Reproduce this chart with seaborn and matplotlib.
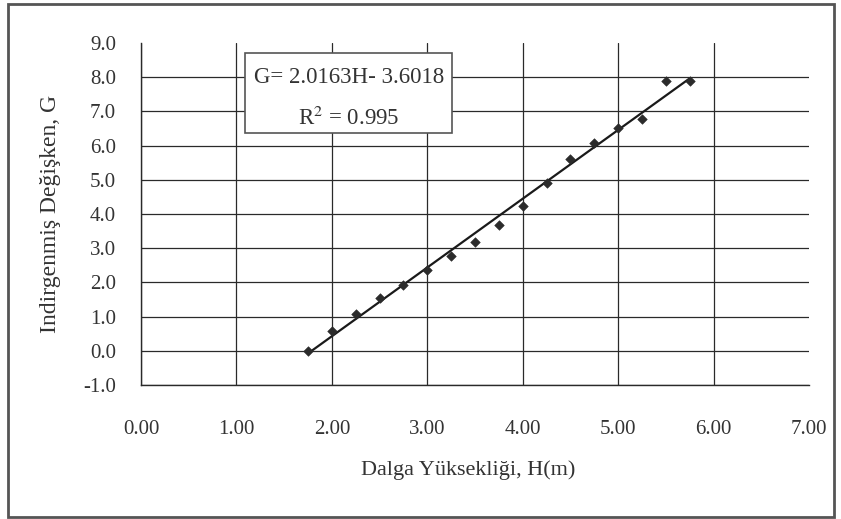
import matplotlib
matplotlib.use("Agg")
import matplotlib.pyplot as plt
import matplotlib.patches as mpatches
from matplotlib.ticker import FormatStrFormatter
import pandas as pd
import seaborn as sns

# wave height H (m) and reduced variate G
wave_height = [1.75, 2.00, 2.25, 2.50, 2.75, 3.00, 3.25, 3.50, 3.75,
               4.00, 4.25, 4.50, 4.75, 5.00, 5.25, 5.50, 5.75]
reduced_var = [0.00, 0.57, 1.07, 1.55, 1.93, 2.37, 2.76, 3.19, 3.68,
               4.24, 4.92, 5.62, 6.08, 6.52, 6.79, 7.88, 7.88]
x_ticks = [0, 1, 2, 3, 4, 5, 6, 7]
y_ticks = [-1, 0, 1, 2, 3, 4, 5, 6, 7, 8, 9]
equation_text = "G= 2.0163H- 3.6018"
r2_text = "R$^2$ = 0.995"

df = pd.DataFrame({"H": wave_height, "G": reduced_var})

sns.set_style("white")
plt.rcParams["font.family"] = ["Liberation Serif", "DejaVu Serif"]
plt.rcParams["mathtext.fontset"] = "stix"
txt_color = "#333333"
grid_color = "#2a2a2a"

fig = plt.figure(figsize=(8.41, 5.19), dpi=100)
ax = fig.add_axes([141 / 841, 1 - 385 / 519, 668 / 841, 342 / 519])

# outer chart frame
fig.patches.append(mpatches.Rectangle(
    (8 / 841, 2 / 519), 826 / 841, 513 / 519, transform=fig.transFigure,
    fill=False, edgecolor="#555555", linewidth=2))

# trendline fitted by seaborn, then the scatter points
sns.regplot(data=df, x="H", y="G", ax=ax, ci=None, truncate=True,
            scatter=False, line_kws={"color": "#1a1a1a", "linewidth": 1.6, "zorder": 4})
sns.scatterplot(data=df, x="H", y="G", ax=ax, marker="D", s=24,
                color="#2b2b2b", edgecolor="#2b2b2b", zorder=5)

ax.set_xlim(x_ticks[0], x_ticks[-1])
ax.set_ylim(y_ticks[0], y_ticks[-1])
ax.set_xticks(x_ticks)
ax.set_yticks(y_ticks)
ax.xaxis.set_major_formatter(FormatStrFormatter("%.2f"))
ax.yaxis.set_major_formatter(FormatStrFormatter("%.1f"))

ax.grid(True, color=grid_color, linewidth=0.9)
# no gridline along the top and right edges
ax.get_xgridlines()[-1].set_visible(False)
ax.get_ygridlines()[-1].set_visible(False)

for side in ("top", "right"):
    ax.spines[side].set_visible(False)
for side in ("left", "bottom"):
    ax.spines[side].set_color(grid_color)
    ax.spines[side].set_linewidth(1.0)

ax.tick_params(axis="y", direction="out", length=3, width=0.9, color=grid_color,
               pad=15, labelsize=15, labelcolor=txt_color)
ax.tick_params(axis="x", direction="in", length=3, width=0.9, color=grid_color,
               pad=25, labelsize=15, labelcolor=txt_color)

ax.set_xlabel("Dalga Yüksekliği, H(m)", fontsize=16, color=txt_color)
ax.set_ylabel("Indirgenmiş Değişken, G", fontsize=17, color=txt_color)
ax.xaxis.set_label_coords(0.49, -0.22)
ax.yaxis.set_label_coords(-0.12, 0.5)

# equation box
ax.add_patch(mpatches.Rectangle((0.1557, 0.7368), 0.3099, 0.234,
                                transform=ax.transAxes, facecolor="white",
                                edgecolor="#555555", linewidth=1.2, zorder=6,
                                clip_on=False))
ax.text(0.311, 0.8977, equation_text, transform=ax.transAxes, ha="center",
        va="center", fontsize=16.5, color=txt_color, zorder=7)
ax.text(0.311, 0.7807, r2_text, transform=ax.transAxes, ha="center",
        va="center", fontsize=16.5, color=txt_color, zorder=7)

fig.savefig("out.png", dpi=100, facecolor="white")
